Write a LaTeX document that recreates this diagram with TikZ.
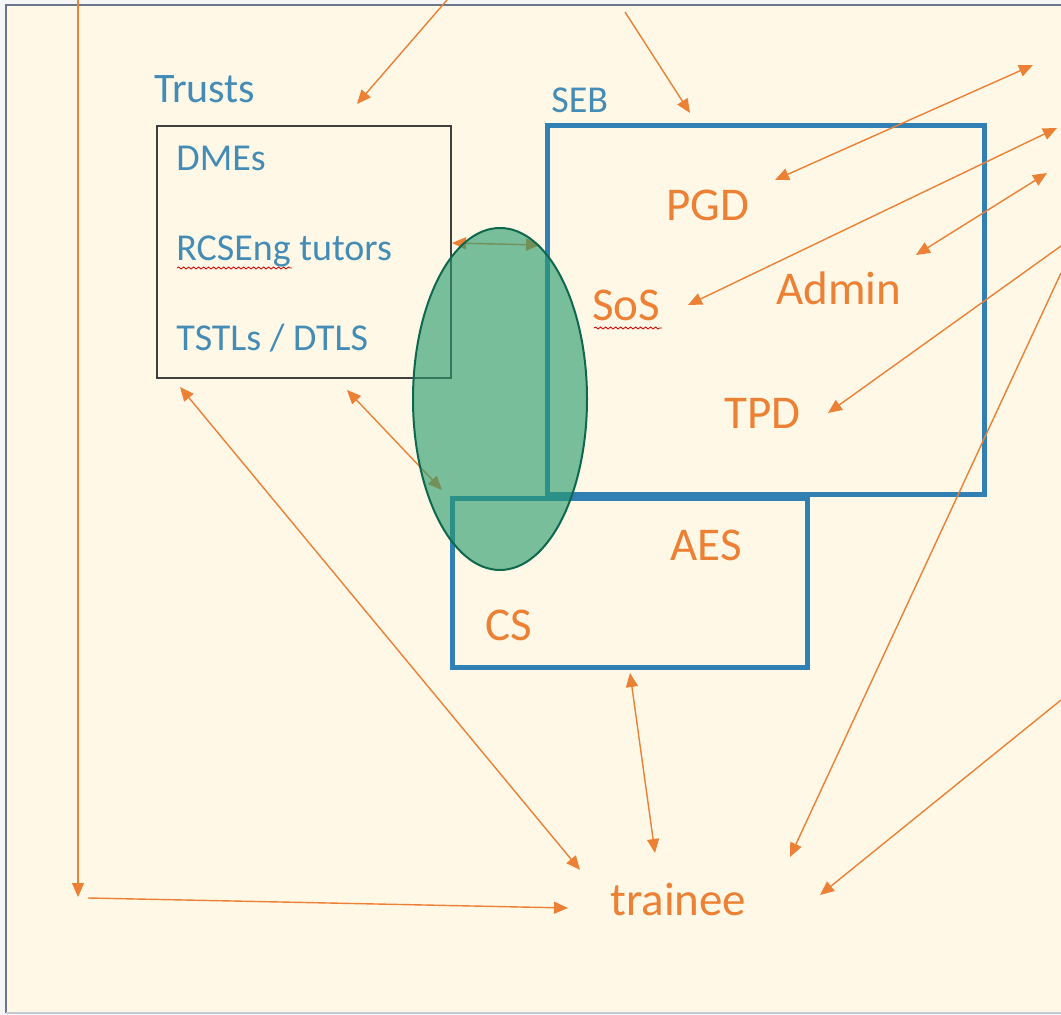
\documentclass[tikz,border=0pt]{standalone}
\usepackage{fontspec}
\setmainfont{Carlito}
\usetikzlibrary{arrows.meta, decorations.pathmorphing}
\definecolor{paper}{RGB}{255,248,230}
\definecolor{outside}{RGB}{246,246,248}
\definecolor{frameGray}{RGB}{108,118,138}
\definecolor{orng}{RGB}{236,128,52}
\definecolor{sebBlue}{RGB}{48,128,180}
\definecolor{txtBlue}{RGB}{68,140,182}
\definecolor{ovalFill}{RGB}{40,155,110}
\definecolor{ovalDraw}{RGB}{14,104,78}
\tikzset{
  link/.style={orng, line width=0.7pt, -{Triangle[length=7pt, width=6pt]}},
  biLink/.style={link, {Triangle[length=7pt, width=6pt]}-{Triangle[length=7pt, width=6pt]}},
  trustBox/.style={draw=black!75, line width=0.7pt, inner sep=0pt, outer sep=0pt},
  sebBox/.style={draw=sebBlue, line width=2.5pt, inner sep=0pt, outer sep=0pt},
  orangeLbl/.style={text=orng, anchor=base west, inner sep=0pt, font=\fontsize{23.5}{28}\selectfont},
  blueLbl/.style={text=txtBlue, anchor=base west, inner sep=0pt, font=\fontsize{19}{23}\selectfont},
  spell/.style={red!85!black, line width=0.4pt, decorate,
    decoration={snake, segment length=2.5pt, amplitude=0.5pt}},
}

\begin{document}
\begin{tikzpicture}[x=0.5pt, y=-0.5pt]

%% ─── Page and slide frame ───────────────────────────────────────────────────
\useasboundingbox (0,0) rectangle (1061,1015);
\fill[outside] (0,0) rectangle (1061,1015);
\fill[paper] (6,5) rectangle (1061,1013);
\draw[frameGray, line width=1pt] (1061,5) -- (6,5) -- (6,1013);
\draw[frameGray!40, line width=1pt] (6,1013) -- (1061,1013);

%% ─── Boxes ──────────────────────────────────────────────────────────────────
\node[trustBox, minimum width=147pt, minimum height=126pt] (trustsBox) at (304,252) {};
\node[sebBox, minimum width=218.5pt, minimum height=184.5pt] (sebBox) at (765.5,310.5) {};
\node[sebBox, minimum width=177.5pt, minimum height=84.5pt] (csBox) at (629.5,583.5) {};

%% ─── Labels ─────────────────────────────────────────────────────────────────
\node[blueLbl, font=\fontsize{21}{25}\selectfont] (trusts) at (154,103) {Trusts};
\node[blueLbl] (seb)   at (551,113) {SEB};
\node[blueLbl] (dmes)  at (176,171) {DMEs};
\node[blueLbl] (rcs)   at (176,261) {RCSEng tutors};
\node[blueLbl] (tstl)  at (176,351) {TSTLs / DTLS};
\node[orangeLbl] (pgd)   at (666,221) {PGD};
\node[orangeLbl] (sos)   at (592,321) {SoS};
\node[orangeLbl] (admin) at (776,305) {Admin};
\node[orangeLbl] (tpd)   at (724,429) {TPD};
\node[orangeLbl] (aes)   at (670,561) {AES};
\node[orangeLbl] (cs)    at (485,641) {CS};
\node[orangeLbl] (trainee) at (610,915) {trainee};

% spelling marks
\draw[spell] (177,268) -- (292,268);
\draw[spell] (594,328) -- (662,328);

%% ─── Arrow ends ─────────────────────────────────────────────────────────────
\coordinate (topA)   at (447,0);
\coordinate (topB)   at (625,12);
\coordinate (topC)   at (78,0);
\coordinate (rightA) at (1033,65);
\coordinate (rightB) at (1057,128);
\coordinate (rightC) at (1047,173);
\coordinate (rightD) at (1061,246);
\coordinate (rightE) at (1061,273);
\coordinate (rightF) at (1061,700);
\coordinate (cornerL) at (78,897);
\coordinate (cornerR) at (88,898);
\coordinate (trustsIn) at (357,104);
\coordinate (sebIn)    at (690,113);
\coordinate (pgdIn)    at (775,180);
\coordinate (sosIn)    at (688,305);
\coordinate (adminIn)  at (916,255);
\coordinate (tpdIn)    at (828,413);
\coordinate (csOut)    at (630,673);
\coordinate (trustsL)  at (180,387);
\coordinate (trustsR)  at (347,390);
\coordinate (ovalL)    at (442,490);
\coordinate (rcsR)     at (452,243);
\coordinate (sebL)     at (540,245);
\coordinate (trnTop)   at (655,853);
\coordinate (trnTL)    at (580,870);
\coordinate (trnL)     at (568,908);
\coordinate (trnTR)    at (790,857);
\coordinate (trnR)     at (820,895);

%% ─── Connectors ─────────────────────────────────────────────────────────────
\draw[link] (topA) -- (trustsIn);
\draw[link] (topB) -- (sebIn);
\draw[link] (topC) -- (cornerL);
\draw[link] (cornerR) -- (trnL);
\foreach \a/\b in {pgdIn/rightA, sosIn/rightB, adminIn/rightC,
                   csOut/trnTop, trustsL/trnTL, trustsR/ovalL, rcsR/sebL}
  \draw[biLink] (\a) -- (\b);
\draw[link] (rightD) -- (tpdIn);
\draw[link] (rightE) -- (trnTR);
\draw[link] (rightF) -- (trnR);

%% ─── Overlap oval ───────────────────────────────────────────────────────────
\draw[ovalDraw, line width=1pt, fill=ovalFill, fill opacity=0.62]
  (500,399) ellipse [x radius=43.5pt, y radius=85.5pt];

\end{tikzpicture}
\end{document}
